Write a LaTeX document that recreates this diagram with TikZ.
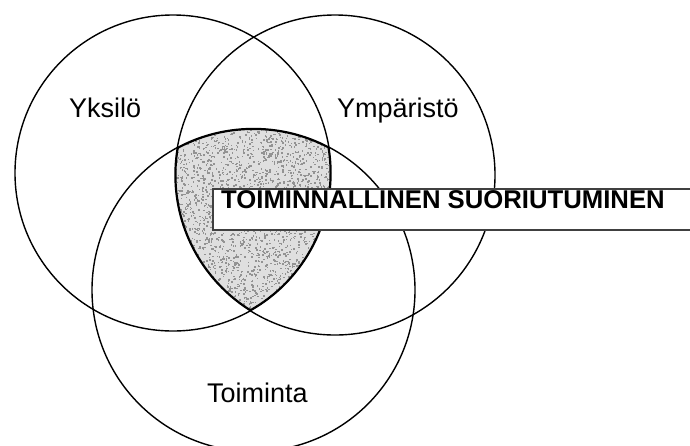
\documentclass[tikz,border=0pt]{standalone}
\usepackage{fontspec}
\setmainfont{Liberation Sans}
\begin{document}
\begin{tikzpicture}[x=1pt,y=-1pt,
  ring/.style={draw=black,line width=1.4pt},
  lbl/.style={font=\fontsize{27}{30}\selectfont,inner sep=0pt,anchor=base west},
  title/.style={font=\fontsize{25.7}{30}\selectfont\bfseries,inner sep=0pt,anchor=base west},
  boxline/.style={draw=black!75,line width=1.6pt}]
\useasboundingbox (0,0) rectangle (690,445);
\clip (0,0) rectangle (690,445);
% shaded triple intersection
\begin{scope}
  \clip (173,173) circle[radius=158];
  \clip (335,175) circle[radius=160];
  \fill[gray!25] (253.5,290) circle[radius=161.5];
  \clip (253.5,290) circle[radius=161.5];
  \pgfmathsetseed{42}
  \foreach \i in {1,...,3200}{
    \pgfmathsetmacro\rx{168+175*rnd}
    \pgfmathsetmacro\ry{126+190*rnd}
    \fill[gray!85] (\rx,\ry) rectangle ++(1.5,1.5);
  }
  % darker boundary band
  \draw[black,line width=3pt] (173,173) circle[radius=158];
  \draw[black,line width=3pt] (335,175) circle[radius=160];
  \draw[black,line width=3pt] (253.5,290) circle[radius=161.5];
\end{scope}
% circles
\draw[ring] (173,173) circle[radius=158];
\draw[ring] (335,175) circle[radius=160];
\draw[ring] (253.5,290) circle[radius=161.5];
% labels
\node[lbl] (yksilo) at (69,117) {Yksilö};
\node[lbl] (ymparisto) at (337,117) {Ympäristö};
\node[lbl] (toiminta) at (207,402) {Toiminta};
% title box
\fill[white] (213,189) rectangle (695,230);
\draw[boxline] (695,189) -- (213,189) -- (213,230) -- (695,230);
\node[title] (suor) at (221,208) {TOIMINNALLINEN SUORIUTUMINEN};
\end{tikzpicture}
\end{document}
